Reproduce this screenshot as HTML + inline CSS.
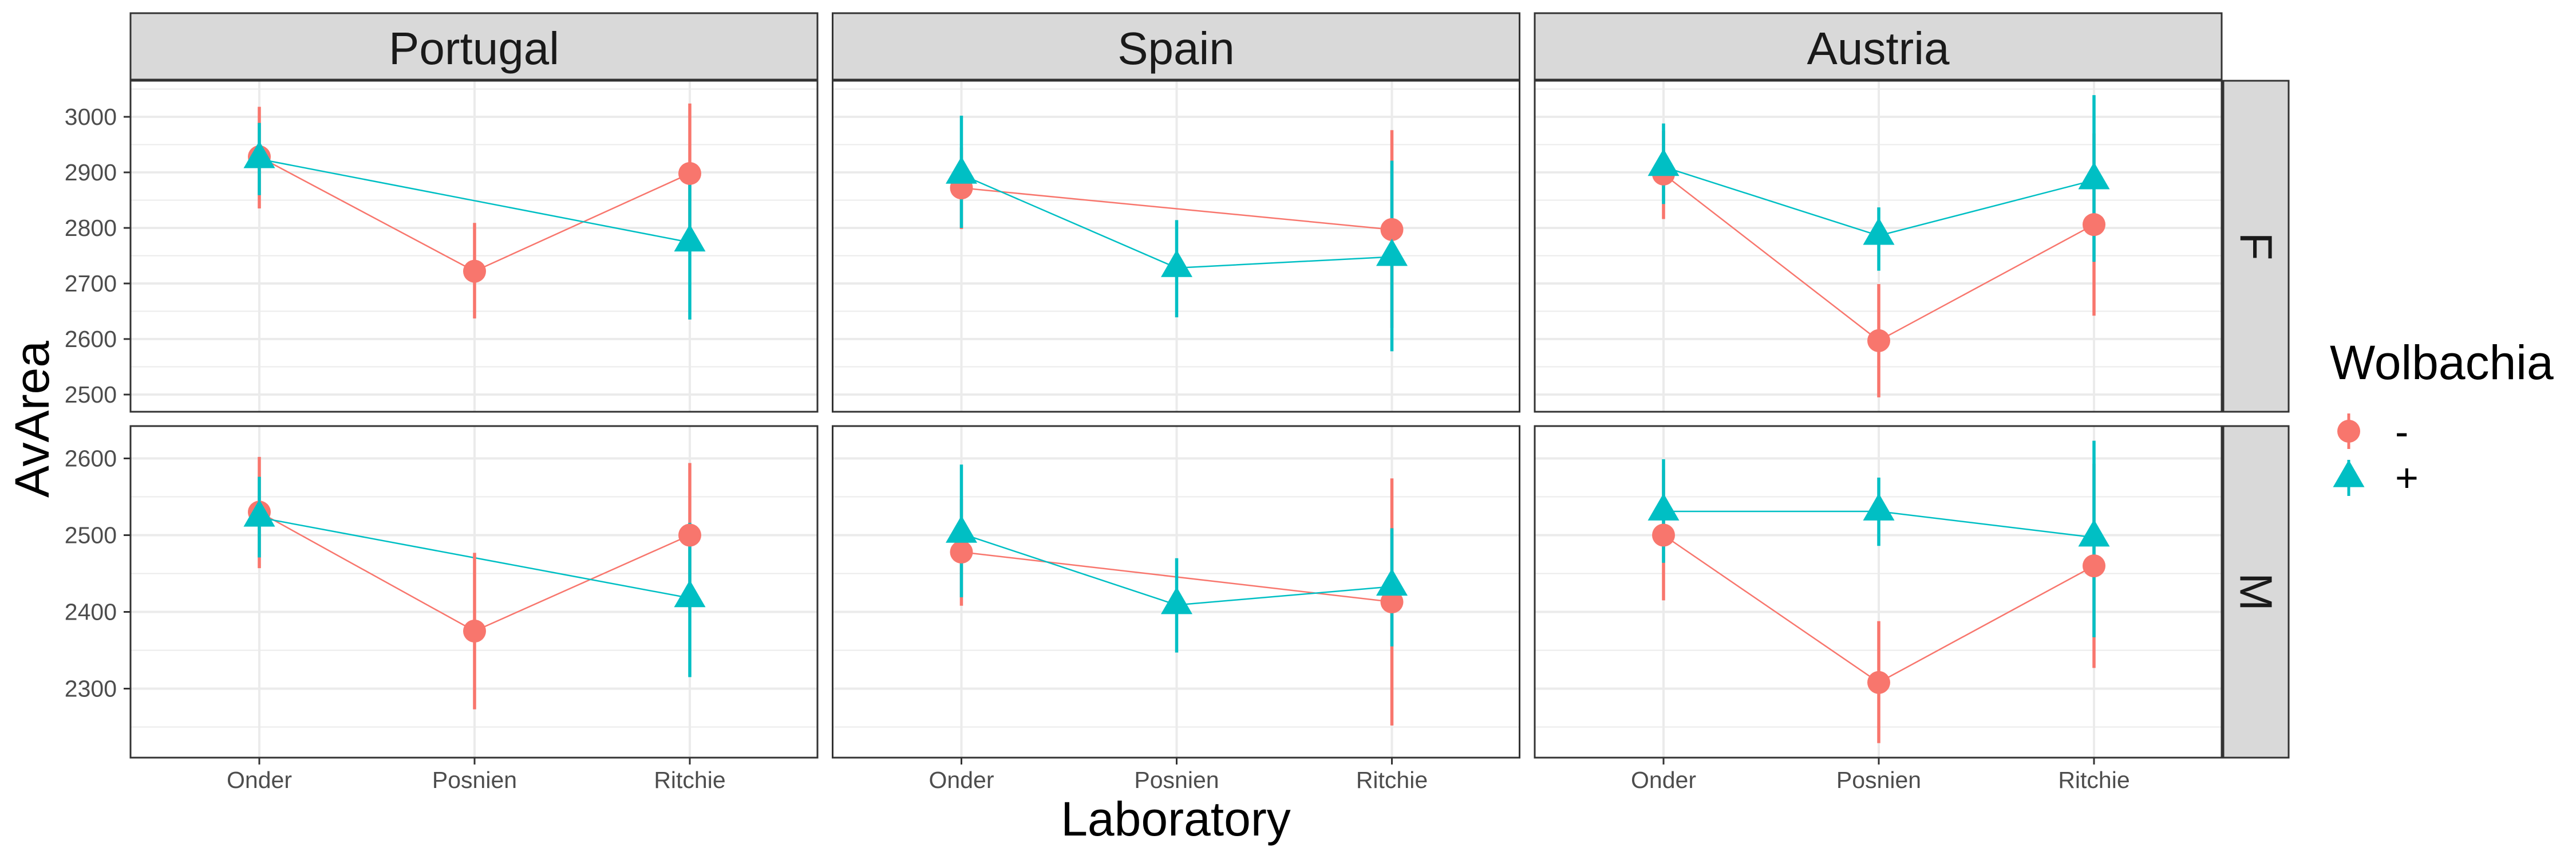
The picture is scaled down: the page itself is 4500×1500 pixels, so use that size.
<!DOCTYPE html>
<html><head><meta charset="utf-8"><style>
html,body{margin:0;padding:0;background:#fff;}
svg{display:block;font-family:"Liberation Sans",sans-serif;}
</style></head><body>
<svg id="chart" width="4500" height="1500" viewBox="0 0 4500 1500" xmlns="http://www.w3.org/2000/svg">
<rect x="0" y="0" width="4500" height="1500" fill="#fff"/>
<g id="layer"></g>
<text x="2054" y="1459" font-size="84" text-anchor="middle" fill="#000">Laboratory</text>
<text x="85" y="732" font-size="84" text-anchor="middle" fill="#000" transform="rotate(-90 85 732)">AvArea</text>
<text x="4070" y="662" font-size="84" fill="#000">Wolbachia</text>
<g>
<line x1="4103" y1="722" x2="4103" y2="784" stroke="#F8766D" stroke-width="5"/>
<circle cx="4103" cy="753" r="20" fill="#F8766D"/>
<text x="4184" y="778" font-size="70" fill="#000">-</text>
</g>
<g>
<line x1="4103" y1="803" x2="4103" y2="866" stroke="#00BFC4" stroke-width="5"/>
<polygon points="4103,803 4130.5,850.6 4075.5,850.6" fill="#00BFC4"/>
<text x="4184" y="858" font-size="70" fill="#000">+</text>
</g>
</svg>
<script>
// categories
const countries = ["Portugal", "Spain", "Austria"];
const sexes = ["F", "M"];
const labs = ["Onder", "Posnien", "Ritchie"];
// F panel means / error bounds per country, order Onder,Posnien,Ritchie
const fMinusMean = [[2928,2722,2898],[2872,null,2797],[2897,2597,2806]];
const fMinusLo   = [[2835,2637,2772],[2798,null,2620],[2816,2495,2642]];
const fMinusHi   = [[3018,2809,3024],[2945,null,2976],[2975,2699,2970]];
const fPlusMean  = [[2924,null,2774],[2896,2728,2748],[2910,2786,2886]];
const fPlusLo    = [[2859,null,2635],[2800,2639,2578],[2843,2723,2739]];
const fPlusHi    = [[2989,null,2915],[3002,2814,2921],[2988,2837,3039]];
// M panel
const mMinusMean = [[2530,2375,2500],[2478,null,2413],[2500,2308,2460]];
const mMinusLo   = [[2457,2273,2405],[2408,null,2252],[2415,2229,2327]];
const mMinusHi   = [[2602,2477,2594],[2547,null,2574],[2585,2388,2593]];
const mPlusMean  = [[2523,null,2418],[2502,2409,2433],[2531,2531,2497]];
const mPlusLo    = [[2471,null,2315],[2419,2347,2355],[2464,2486,2367]];
const mPlusHi    = [[2576,null,2516],[2592,2470,2509],[2599,2575,2623]];
// tick labels
const fTicks = [2500,2600,2700,2800,2900,3000];
const fMinor = [2550,2650,2750,2850,2950,3050];
const mTicks = [2300,2400,2500,2600];
const mMinor = [2250,2350,2450,2550];

const NS = "http://www.w3.org/2000/svg";
const layer = document.getElementById("layer");
function el(tag, attrs, parent){
  const e = document.createElementNS(NS, tag);
  for (const k in attrs) e.setAttribute(k, attrs[k]);
  (parent||layer).appendChild(e);
  return e;
}
const panelLeft = [228, 1454.5, 2681];
const panelW = 1200;
const rows = [
  {top:141, bottom:719, y:v=>204 + (3000-v)*0.97, ticks:fTicks, minor:fMinor,
   mm:fMinusMean, ml:fMinusLo, mh:fMinusHi, pm:fPlusMean, pl:fPlusLo, ph:fPlusHi},
  {top:744, bottom:1323, y:v=>800.5 + (2600-v)*1.34, ticks:mTicks, minor:mMinor,
   mm:mMinusMean, ml:mMinusLo, mh:mMinusHi, pm:mPlusMean, pl:mPlusLo, ph:mPlusHi}
];
function xPos(ci, li){ return panelLeft[ci] + 225 + li*376; }
const RED="#F8766D", CYAN="#00BFC4";

// strips (top)
countries.forEach((c,ci)=>{
  const g = el("g",{});
  
  
  el("rect",{x:panelLeft[ci],y:23,width:panelW,height:116,fill:"#D9D9D9",stroke:"#333",["stroke-width"]:3},g);
  const t = el("text",{x:panelLeft[ci]+panelW/2,y:112,"font-size":80,"text-anchor":"middle",fill:"#1A1A1A"},g);
  t.textContent = c;
});
// right strips
sexes.forEach((s,ri)=>{
  const r = rows[ri];
  const g = el("g",{});
  
  
  el("rect",{x:3884,y:r.top,width:114,height:r.bottom-r.top,fill:"#D9D9D9",stroke:"#333",["stroke-width"]:3},g);
  const cy=(r.top+r.bottom)/2;
  const t = el("text",{x:3941,y:cy,"font-size":80,"text-anchor":"middle","dominant-baseline":"central",fill:"#1A1A1A",transform:`rotate(90 3941 ${cy})`},g);
  t.textContent = s;
});

rows.forEach((r,ri)=>{
  // y tick labels
  r.ticks.forEach(v=>{
    const yy=r.y(v);
    const tk = el("line",{x1:216,x2:228,y1:yy,y2:yy,stroke:"#333","stroke-width":3});
    
    
    const t = el("text",{x:204,y:yy+14,"font-size":41,"text-anchor":"end",fill:"#4D4D4D"});
    
    
    t.textContent = v;
  });
  countries.forEach((c,ci)=>{
    const L=panelLeft[ci];
    const g = el("g",{});
    
    
    el("rect",{x:L,y:r.top,width:panelW,height:r.bottom-r.top,fill:"#fff"},g);
    r.minor.forEach(v=>{const yy=r.y(v); if(yy>r.top&&yy<r.bottom) el("line",{x1:L,x2:L+panelW,y1:yy,y2:yy,stroke:"#EBEBEB","stroke-width":2},g);});
    r.ticks.forEach(v=>{const yy=r.y(v); el("line",{x1:L,x2:L+panelW,y1:yy,y2:yy,stroke:"#EBEBEB","stroke-width":4},g);});
    labs.forEach((l,li)=>{const xx=xPos(ci,li); el("line",{x1:xx,x2:xx,y1:r.top,y2:r.bottom,stroke:"#EBEBEB","stroke-width":4},g);});
    // series
    const series=[{m:r.mm,lo:r.ml,hi:r.mh,col:RED,shape:"circle",n:"minus"},{m:r.pm,lo:r.pl,hi:r.ph,col:CYAN,shape:"tri",n:"plus"}];
    series.forEach(s=>{
      const pts=[];
      labs.forEach((l,li)=>{ if(s.m[ci][li]!=null) pts.push(xPos(ci,li)+","+r.y(s.m[ci][li])); });
      const pl = el("polyline",{points:pts.join(" "),fill:"none",stroke:s.col,"stroke-width":2.5},g);
      
      
    });
    series.forEach(s=>{
      labs.forEach((l,li)=>{
        if(s.m[ci][li]==null) return;
        const xx=xPos(ci,li);
        const eb = el("line",{x1:xx,x2:xx,y1:r.y(s.hi[ci][li]),y2:r.y(s.lo[ci][li]),stroke:s.col,"stroke-width":5.5},g);
        
        
      });
    });
    series.forEach(s=>{
      labs.forEach((l,li)=>{
        if(s.m[ci][li]==null) return;
        const xx=xPos(ci,li), yy=r.y(s.m[ci][li]);
        let p;
        if(s.shape==="circle") p=el("circle",{cx:xx,cy:yy,r:20,fill:s.col},g);
        else p=el("polygon",{points:`${xx},${yy-31.7} ${xx+27.5},${yy+15.9} ${xx-27.5},${yy+15.9}`,fill:s.col},g);
        
        
      });
    });
    el("rect",{x:L,y:r.top,width:panelW,height:r.bottom-r.top,fill:"none",stroke:"#333","stroke-width":3},g);
    if(ri===1){
      labs.forEach((l,li)=>{
        const xx=xPos(ci,li);
        el("line",{x1:xx,x2:xx,y1:1323,y2:1335,stroke:"#333","stroke-width":3});
        const t=el("text",{x:xx,y:1376,"font-size":41,"text-anchor":"middle",fill:"#4D4D4D"});
        
        
        t.textContent=l;
      });
    }
  });
});
</script>
</body></html>
